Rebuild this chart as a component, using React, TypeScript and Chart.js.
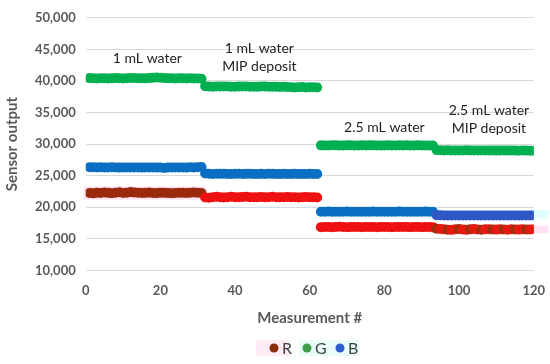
import React, { useEffect, useRef } from "react";
import { Chart, registerables } from "chart.js";

Chart.register(...registerables);

const measurement: number[] = Array.from({ length: 120 }, (_, i) => i + 1);

const greenValues: number[] = [
  40450, 40420, 40400, 40430, 40410, 40380, 40420, 40450, 40430, 40400, 40420, 40460, 40480, 40440, 40420, 40410, 40450, 40500, 40560, 40520, 40480, 40440, 40420, 40400, 40430, 40410, 40390, 40420, 40400, 40380, 40360,
  39150, 39120, 39100, 39130, 39110, 39140, 39120, 39100, 39090, 39110, 39130, 39120, 39100, 39080, 39100, 39120, 39110, 39090, 39100, 39080, 39060, 39080, 39050, 39020, 38980, 39000, 39060, 38980, 39020, 39000, 38960,
  29800, 29780, 29790, 29810, 29800, 29790, 29780, 29800, 29810, 29790, 29780, 29800, 29790, 29800, 29810, 29790, 29780, 29790, 29800, 29790, 29780, 29800, 29790, 29800, 29780, 29790, 29800, 29790, 29780, 29770, 29760,
  29050, 29020, 29000, 29010, 28990, 29000, 28980, 29000, 29010, 28990, 28980, 29000, 28990, 28980, 29000, 28990, 28970, 28980, 28990, 28970, 28980, 28970, 28960, 28980, 28970, 28960, 28950,
];

const blueValues: number[] = [
  26350, 26320, 26300, 26330, 26310, 26290, 26320, 26300, 26280, 26310, 26300, 26290, 26310, 26300, 26280, 26300, 26310, 26290, 26280, 26300, 26220, 26280, 26300, 26290, 26310, 26300, 26280, 26320, 26300, 26350, 26380,
  25350, 25300, 25280, 25300, 25290, 25300, 25280, 25270, 25290, 25300, 25280, 25290, 25300, 25280, 25270, 25290, 25280, 25300, 25290, 25280, 25270, 25290, 25280, 25270, 25290, 25280, 25270, 25280, 25290, 25280, 25270,
  19300, 19290, 19310, 19300, 19280, 19300, 19290, 19310, 19300, 19290, 19300, 19280, 19290, 19300, 19310, 19300, 19290, 19280, 19300, 19290, 19300, 19310, 19300, 19290, 19280, 19300, 19290, 19300, 19310, 19300, 19290,
  18750, 18720, 18700, 18710, 18690, 18700, 18710, 18690, 18700, 18680, 18700, 18690, 18700, 18710, 18690, 18700, 18680, 18690, 18700, 18690, 18680, 18700, 18690, 18680, 18700, 18690, 18700,
];

const redValues: number[] = [
  22250, 22200, 22300, 22250, 22350, 22280, 22220, 22300, 22380, 22250, 22300, 22400, 22350, 22300, 22250, 22280, 22320, 22260, 22240, 22300, 22280, 22250, 22230, 22260, 22300, 22280, 22250, 22300, 22350, 22300, 22250,
  21550, 21500, 21600, 21650, 21600, 21550, 21600, 21650, 21600, 21580, 21620, 21650, 21600, 21580, 21600, 21620, 21580, 21600, 21650, 21600, 21580, 21600, 21620, 21600, 21580, 21560, 21600, 21620, 21580, 21600, 21550,
  16850, 16880, 16860, 16850, 16870, 16900, 16860, 16850, 16880, 16870, 16860, 16850, 16880, 16860, 16870, 16850, 16860, 16880, 16870, 16850, 16860, 16870, 16880, 16860, 16850, 16870, 16860, 16850, 16870, 16860, 16850,
  16600, 16550, 16500, 16450, 16420, 16500, 16550, 16480, 16420, 16500, 16560, 16480, 16450, 16500, 16520, 16480, 16460, 16500, 16480, 16450, 16500, 16480, 16460, 16500, 16480, 16470, 16500,
];

const legendLabels: string[] = ["R", "G", "B"];
const legendColors: string[] = ["#8b2e0a", "#3e9e4c", "#2e5bd0"];

const annotationLines: string[] = ["1 mL water", "1 mL water", "MIP deposit", "2.5 mL water", "2.5 mL water", "MIP deposit"];
const annotationX: number[] = [16.5, 46.5, 46.5, 80, 108, 108];
const annotationY: number[] = [43500, 45100, 42300, 32600, 35300, 32450];

const FONT = "Lato, 'Open Sans', sans-serif";

const annotationPlugin = {
  id: "annot",
  beforeDatasetsDraw(chart: any) {
    const { ctx, scales } = chart;
    const x = scales.x, y = scales.y;
    ctx.save();
    ctx.fillStyle = "rgba(255, 170, 220, 0.35)";
    const l1 = x.getPixelForValue(-0.6), r1 = x.getPixelForValue(32.3);
    ctx.fillRect(l1, y.getPixelForValue(23300), r1 - l1, y.getPixelForValue(21200) - y.getPixelForValue(23300));
    const l2 = x.getPixelForValue(92), r2 = x.getPixelForValue(124);
    ctx.fillRect(l2, y.getPixelForValue(17100), r2 - l2, y.getPixelForValue(15900) - y.getPixelForValue(17100));
    ctx.fillStyle = "rgba(170, 250, 250, 0.35)";
    const l3 = x.getPixelForValue(92), r3 = x.getPixelForValue(124);
    ctx.fillRect(l3, y.getPixelForValue(19600), r3 - l3, y.getPixelForValue(18100) - y.getPixelForValue(19600));
    ctx.restore();
  },
  afterDatasetsDraw(chart: any) {
    const { ctx, scales } = chart;
    ctx.save();
    ctx.font = `14px ${FONT}`;
    ctx.fillStyle = "#222222";
    ctx.textAlign = "center";
    ctx.textBaseline = "middle";
    annotationLines.forEach((t, i) => {
      ctx.fillText(t, scales.x.getPixelForValue(annotationX[i]), scales.y.getPixelForValue(annotationY[i]));
    });
    ctx.restore();
  },
  afterDraw(chart: any) {
    const { ctx } = chart;
    ctx.save();
    const cy = 348;
    const startX = 274;
    const step = 33;
    ctx.fillStyle = "rgba(255, 190, 225, 0.3)";
    ctx.fillRect(startX - 18, cy - 8, 34, 16);
    ctx.fillStyle = "rgba(180, 250, 240, 0.3)";
    ctx.fillRect(startX + step - 8, cy - 8, 60, 16);
    ctx.font = `16px ${FONT}`;
    ctx.textBaseline = "middle";
    ctx.textAlign = "left";
    legendLabels.forEach((t, i) => {
      const px = startX + i * step;
      ctx.fillStyle = legendColors[i];
      ctx.beginPath();
      ctx.arc(px, cy, 4.5, 0, Math.PI * 2);
      ctx.fill();
      ctx.fillStyle = "#404040";
      ctx.fillText(t, px + 8, cy + 1);
    });
    ctx.restore();
  },
};

export default function App() {
  const ref = useRef<HTMLCanvasElement>(null);
  useEffect(() => {
    if (!ref.current) return;
    const redColors = redValues.map((_, i) => (i < 31 ? "#9a2a0c" : i < 93 ? "#ee1111" : i % 3 === 0 ? "#a0300c" : "#e51a10"));
    const blueColors = blueValues.map((_, i) => (i < 93 ? "#0a6fc2" : "#2f57c6"));
    const chart = new Chart(ref.current, {
      type: "scatter",
      data: {
        datasets: [
          {
            label: "R",
            data: measurement.map((x, i) => ({ x, y: redValues[i] })),
            backgroundColor: redColors,
            borderColor: redColors,
            pointRadius: 5,
            pointBorderWidth: 0,
          },
          {
            label: "G",
            data: measurement.map((x, i) => ({ x, y: greenValues[i] })),
            backgroundColor: "#00b050",
            borderColor: "#00b050",
            pointRadius: 5,
            pointBorderWidth: 0,
          },
          {
            label: "B",
            data: measurement.map((x, i) => ({ x, y: blueValues[i] })),
            backgroundColor: blueColors,
            borderColor: blueColors,
            pointRadius: 5,
            pointBorderWidth: 0,
          },
        ],
      },
      options: {
        animation: false,
        responsive: false,
        maintainAspectRatio: false,
        layout: { padding: { top: 10, right: 0, left: 3, bottom: 33 } },
        plugins: {
          tooltip: { enabled: false },
          legend: { display: false },
        },
        scales: {
          x: {
            type: "linear",
            min: 0,
            max: 120,
            ticks: { stepSize: 20, color: "#595959", font: { family: FONT, size: 13, weight: "bold" }, padding: 5 },
            grid: { display: false },
            border: { display: false },
            title: { display: true, text: "Measurement #", color: "#595959", font: { family: FONT, size: 15, weight: "bold" }, padding: { top: 5, bottom: 4 } },
          },
          y: {
            min: 10000,
            max: 50000,
            ticks: {
              stepSize: 5000,
              color: "#595959",
              font: { family: FONT, size: 13, weight: "bold" },
              padding: 10,
              callback: (v: any) => Number(v).toLocaleString("en-US"),
            },
            grid: { color: "#d9d9d9", lineWidth: 1, drawTicks: false },
            border: { display: false },
            title: { display: true, text: "Sensor output", color: "#595959", font: { family: FONT, size: 15, weight: "bold" }, padding: { top: 0, bottom: 4 } },
          },
        },
      },
      plugins: [annotationPlugin],
    });
    return () => chart.destroy();
  }, []);
  return (
    <div style={{ position: "fixed", left: 0, top: 0, width: 550, height: 364, background: "#fff" }}>
      <canvas ref={ref} width={550} height={364} style={{ width: 550, height: 364 }} />
    </div>
  );
}
